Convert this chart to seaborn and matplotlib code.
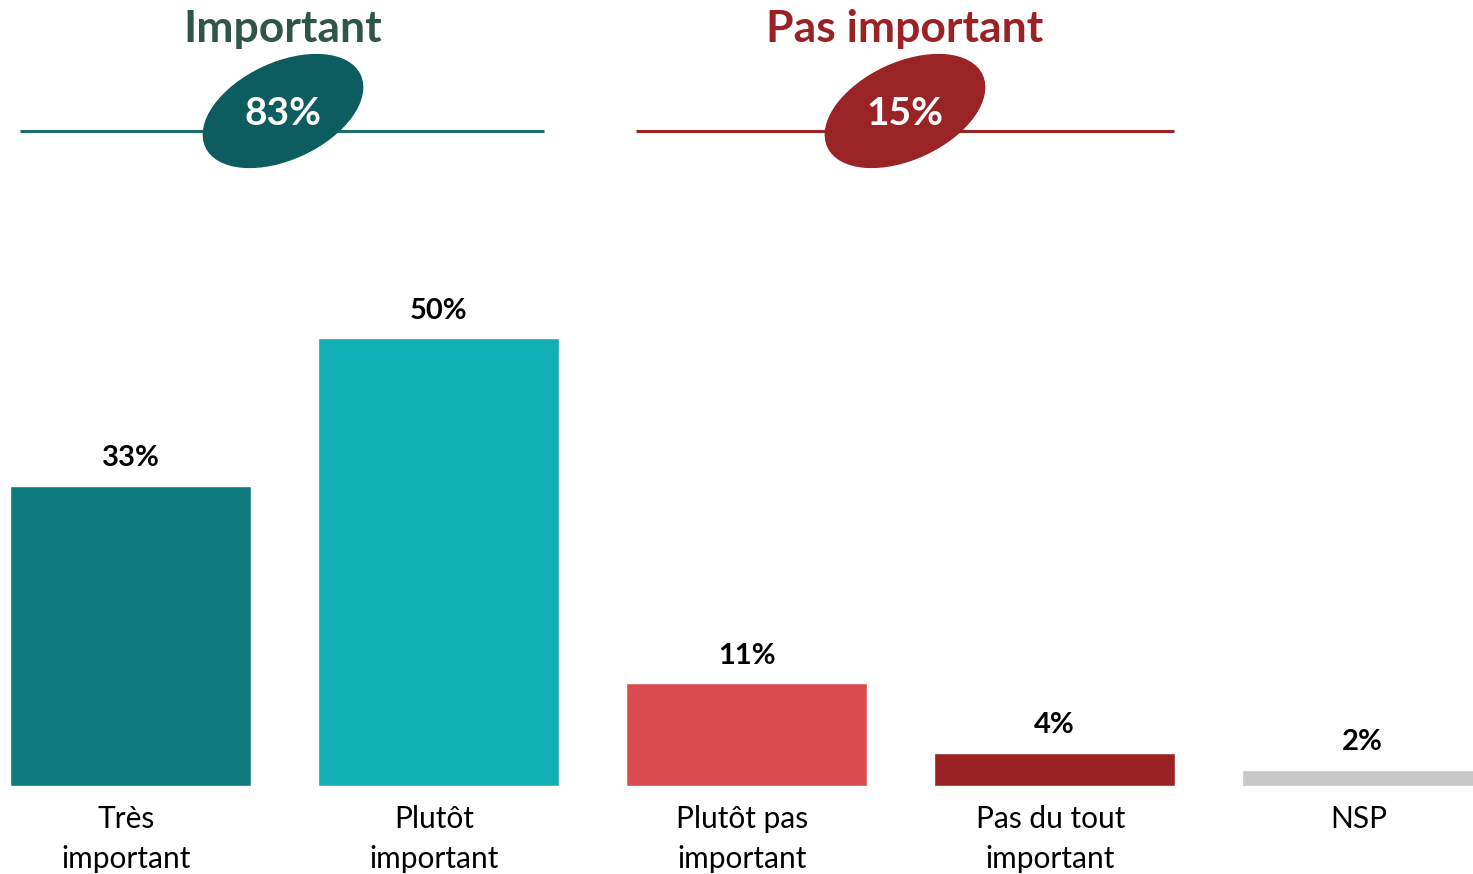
import pandas as pd
import matplotlib
matplotlib.use("Agg")
import matplotlib.pyplot as plt
from matplotlib.patches import Ellipse
import seaborn as sns

# données
categories = ["Très\nimportant", "Plutôt\nimportant", "Plutôt pas\nimportant", "Pas du tout\nimportant", "NSP"]
valeurs = [33.5, 50, 11.5, 3.7, 1.8]
etiquettes = ["33%", "50%", "11%", "4%", "2%"]
couleurs = ["#0F7A80", "#13AFB6", "#D94C4F", "#9A2224", "#C8C8C8"]

groupes = ["Important", "Pas important"]
totaux = ["83%", "15%"]

df = pd.DataFrame({"categorie": categories, "valeur": valeurs})

sns.set_theme(style="white")
plt.rcParams["font.family"] = ["Lato", "DejaVu Sans"]

W, H = 1473, 874
fig = plt.figure(figsize=(W / 100, H / 100), dpi=100)

# axe des barres: base à 786 px du haut, 8.96 px par point de %
ax = fig.add_axes([0, 88 / H, 1, 786 / H])
sns.barplot(data=df, x="categorie", y="valeur", hue="categorie",
            palette=couleurs, width=0.78, legend=False, ax=ax, saturation=1)
ax.set_xlim(-130.5 / 308, (W - 130.5) / 308)
ax.set_ylim(0, 786 / 8.96)
ax.axis("off")

for i, (v, lab) in enumerate(zip(valeurs, etiquettes)):
    ax.annotate(lab, (i, v), xytext=(0, 14), textcoords="offset points",
                ha="center", va="baseline", fontsize=21, fontweight="bold", color="black")
    ax.annotate(categories[i], (i, 0), xytext=(-3, -14), textcoords="offset points",
                ha="center", va="top", fontsize=21.5, color="black", linespacing=1.5,
                annotation_clip=False)

# en-têtes (coordonnées en pixels)
top = fig.add_axes([0, 0, 1, 1])
top.set_xlim(0, W)
top.set_ylim(0, H)
top.axis("off")

entetes = [
    dict(cx=283, x0=20, x1=544, ligne="#1B6A6E", ell="#0D5C5F", titre="#2E5646"),
    dict(cx=905, x0=636, x1=1174, ligne="#9A2224", ell="#9A2326", titre="#9A2224"),
]
for g, tot, e in zip(groupes, totaux, entetes):
    top.plot([e["x0"], e["x1"]], [H - 131, H - 131], color=e["ligne"], lw=2.2, solid_capstyle="butt")
    top.add_patch(Ellipse((e["cx"], H - 111), 170, 96, angle=25, color=e["ell"], zorder=3))
    top.text(e["cx"], H - 125, tot, ha="center", va="baseline", fontsize=28,
             fontweight="bold", color="white", zorder=4)
    top.text(e["cx"], H - 42, g, ha="center", va="baseline", fontsize=32,
             fontweight="bold", color=e["titre"])

fig.savefig("out.png", dpi=100)
